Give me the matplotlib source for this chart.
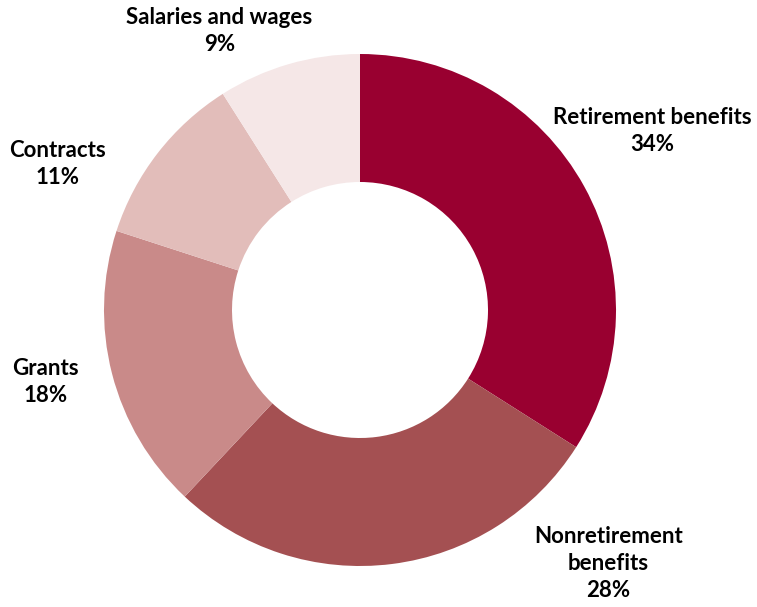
import matplotlib.pyplot as plt

categories = ["Retirement benefits", "Nonretirement\nbenefits", "Grants",
              "Contracts", "Salaries and wages"]
shares = [34, 28, 18, 11, 9]
colors = ["#990030", "#A45052", "#C98A89", "#E2BDBA", "#F5E7E7"]
# label centres in axis units (radius 1 = outer edge)
label_pos = [(1.14, 0.70), (0.97, -0.99), (-1.23, -0.28),
             (-1.18, 0.57), (-0.55, 1.09)]

plt.rcParams['font.family'] = ['Lato', 'DejaVu Sans']

fig = plt.figure(figsize=(7.57, 6.07), dpi=100)
ax = fig.add_axes([0, 0, 1, 1])

ax.pie(shares, colors=colors, startangle=90, counterclock=False,
       radius=1.0, wedgeprops=dict(width=0.5, edgecolor='none'))

for name, val, (x, y) in zip(categories, shares, label_pos):
    ax.text(x, y, f"{name}\n{val}%", ha='center', va='center',
            fontsize=16, fontweight='bold', color='#000000', linespacing=1.35)

ax.set_xlim(-360 / 256, (757 - 360) / 256)
ax.set_ylim(-(607 - 310) / 256, 310 / 256)
ax.set_aspect('equal')
ax.axis('off')

fig.savefig("out.png", dpi=100)
